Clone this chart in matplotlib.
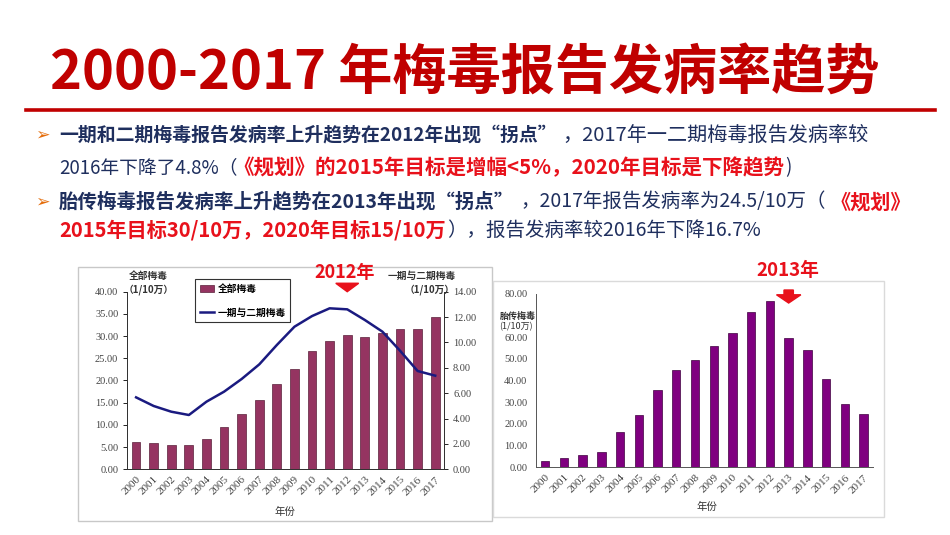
import matplotlib
matplotlib.use("Agg")
import matplotlib.pyplot as plt
from matplotlib.patches import Rectangle, FancyArrow, Patch
from matplotlib.lines import Line2D

plt.rcParams['font.family'] = ['Noto Sans CJK SC', 'DejaVu Sans']

# data (rate per 100,000)
years = [str(y) for y in range(2000, 2018)]
total_rate = [6.2, 5.85, 5.4, 5.4, 6.75, 9.5, 12.5, 15.5, 19.1, 22.65,
              26.55, 29.0, 30.15, 29.8, 30.6, 31.5, 31.65, 34.2]
ps_rate = [5.67, 4.99, 4.54, 4.28, 5.33, 6.12, 7.12, 8.27, 9.80, 11.24,
           12.08, 12.69, 12.61, 11.77, 10.85, 9.35, 7.75, 7.38]
congenital_rate = [2.76, 4.15, 5.84, 7.07, 16.4, 24.1, 35.6, 44.7, 49.5, 56.1,
                   61.9, 71.4, 76.5, 59.6, 54.1, 40.7, 29.0, 24.5]
left_ticks = [0, 5, 10, 15, 20, 25, 30, 35, 40]
right_ticks = [0, 2, 4, 6, 8, 10, 12, 14]
cong_ticks = [0, 10, 20, 30, 40, 50, 60, 70, 80]

TITLE_RED = "#C00000"
RED = "#E8111B"
NAVY = "#1F2F5E"
BAR1 = "#953461"
BAR2 = "#800080"
LINE = "#1A1A80"
SERIF = ["Liberation Serif", "Noto Sans CJK SC"]

W, H = 950, 535
fig = plt.figure(figsize=(9.5, 5.35), dpi=100)


def fx(px):
    return px / W


def fy(py):
    return 1 - py / H


# ---- title block ----
fig.text(fx(465), fy(73), "2000-2017 年梅毒报告发病率趋势", color=TITLE_RED,
         fontsize=39, fontweight="bold", ha="center", va="center")
fig.add_artist(Line2D([fx(26), fx(935)], [fy(110), fy(110)], color=TITLE_RED,
                      lw=2.6, transform=fig.transFigure))

renderer = fig.canvas.get_renderer()


def draw_runs(x, y, runs):
    # runs: (text, colour, weight, size, gap in px before)
    for s, color, weight, size, gap in runs:
        x += gap
        t = fig.text(fx(x), fy(y), s, color=color, fontweight=weight,
                     fontsize=size, ha="left", va="center")
        x = t.get_window_extent(renderer=renderer).x1


for by in (135, 202):
    fig.text(fx(35), fy(by), "➢", color="#E46C0A", fontsize=12.5,
             family=["DejaVu Sans"], ha="left", va="center")

draw_runs(59, 135, [
    ("一期和二期梅毒报告发病率上升趋势在2012年出现“拐点”", NAVY, "bold", 13.6, 0),
    ("，2017年一二期梅毒报告发病率较", NAVY, "normal", 14.5, 6),
])
draw_runs(59, 168, [
    ("2016年下降了4.8%（", NAVY, "normal", 13.5, 0),
    ("《规划》的2015年目标是增幅<5%，2020年目标是下降趋势", RED, "bold", 14.8, -4),
    (")", NAVY, "normal", 13.5, 1),
])
draw_runs(59, 202, [
    ("胎传梅毒报告发病率上升趋势在2013年出现“拐点”", NAVY, "bold", 14, 0),
    ("，2017年报告发病率为24.5/10万（", NAVY, "normal", 14, 6),
    ("《规划》", RED, "bold", 14.5, 5),
])
draw_runs(59, 230, [
    ("2015年目标30/10万，2020年目标15/10万", RED, "bold", 14.5, 0),
    ("），报告发病率较2016年下降16.7%", NAVY, "normal", 14, 1),
])

# ---- panel frames ----
fig.add_artist(Rectangle((fx(78), fy(521)), fx(492) - fx(78), fy(267) - fy(521),
                         transform=fig.transFigure, fill=False,
                         edgecolor="#C8C8C8", lw=1))
fig.add_artist(Rectangle((fx(493), fy(517)), fx(884) - fx(493), fy(281) - fy(517),
                         transform=fig.transFigure, fill=False,
                         edgecolor="#DADADA", lw=1))

x = list(range(len(years)))

# ---- left chart: all syphilis + primary/secondary ----
ax = fig.add_axes([fx(127.3), fy(469.3), fx(444) - fx(127.3), fy(291.7) - fy(469.3)])
ax2 = ax.twinx()
ax.bar(x, total_rate, width=0.5, color=BAR1, edgecolor="#5A1F3A", lw=0.5)
ax2.plot(x, ps_rate, color=LINE, lw=1.8)
ax.set_xlim(-0.5, 17.5)
ax.set_ylim(0, 40)
ax2.set_ylim(0, 14)
ax.set_yticks(left_ticks)
ax.set_yticklabels([f"{v:.2f}" for v in left_ticks], family=SERIF, fontsize=7.5, color="#444444")
ax2.set_yticks(right_ticks)
ax2.set_yticklabels([f"{v:.2f}" for v in right_ticks], family=SERIF, fontsize=7.5, color="#444444")
ax.set_xticks(x)
ax.set_xticklabels(years, rotation=45, ha="right", rotation_mode="anchor",
                   family=SERIF, fontsize=8, color="#444444")
ax.tick_params(axis="x", length=0, pad=4)
ax.tick_params(axis="y", length=3, width=0.6)
ax2.tick_params(axis="y", length=3, width=0.6)
for a in (ax, ax2):
    a.spines["top"].set_visible(False)
    for s in ("left", "right", "bottom"):
        a.spines[s].set_linewidth(0.7)
        a.spines[s].set_color("#333333")
fig.text(fx(285), fy(512), "年份", fontsize=7.5, color="#333333", ha="center", va="center")
fig.text(fx(148), fy(276), "全部梅毒", fontsize=7, fontweight="bold", color="#333333",
         ha="center", va="center")
fig.text(fx(149), fy(290), "（1/10万）", fontsize=7, fontweight="bold", color="#333333",
         ha="center", va="center")
fig.text(fx(422), fy(276), "一期与二期梅毒", fontsize=7, fontweight="bold", color="#333333",
         ha="center", va="center")
fig.text(fx(430), fy(290), "（1/10万）", fontsize=7, fontweight="bold", color="#333333",
         ha="center", va="center")

handles = [Patch(facecolor=BAR1, edgecolor="#5A1F3A", lw=0.5),
           Line2D([], [], color=LINE, lw=1.8)]
leg = fig.legend(handles, ["全部梅毒", "一期与二期梅毒"], loc="upper left",
                 bbox_to_anchor=(fx(195), fy(279)), bbox_transform=fig.transFigure,
                 prop={"size": 7, "weight": "bold"}, fancybox=False,
                 edgecolor="#333333", framealpha=1, labelspacing=1.4,
                 handlelength=1.5, handletextpad=0.3, borderpad=0.5,
                 borderaxespad=0)
leg.get_frame().set_linewidth(0.8)

# turning point marker 2012
ax.add_patch(FancyArrow(12, 41.9, 0, -1.9, width=0.55, head_width=1.3,
                        head_length=1.9, length_includes_head=True,
                        color=RED, clip_on=False))
fig.text(fx(345), fy(272), "2012年", color=RED, fontsize=13,
         fontweight="bold", ha="center", va="center")

# ---- right chart: congenital syphilis ----
bx = fig.add_axes([fx(535.7), fy(467.3), fx(873) - fx(535.7), fy(293.7) - fy(467.3)])
bx.bar(x, congenital_rate, width=0.45, color=BAR2, edgecolor="#3F003F", lw=0.5)
bx.set_xlim(-0.5, 17.5)
bx.set_ylim(0, 80)
bx.set_yticks(cong_ticks)
# the 70.00 label sits under the axis title in the reference
bx.set_yticklabels(["" if v == 70 else f"{v:.2f}" for v in cong_ticks],
                   family=SERIF, fontsize=7.5, color="#444444")
bx.set_xticks(x)
bx.set_xticklabels(years, rotation=45, ha="right", rotation_mode="anchor",
                   family=SERIF, fontsize=8, color="#444444")
bx.tick_params(axis="x", length=0, pad=4)
bx.tick_params(axis="y", length=0, pad=6)
bx.spines["top"].set_visible(False)
bx.spines["right"].set_visible(False)
for s in ("left", "bottom"):
    bx.spines[s].set_linewidth(0.7)
    bx.spines[s].set_color("#555555")
fig.text(fx(707), fy(507), "年份", fontsize=7.5, color="#333333", ha="center", va="center")
fig.text(fx(500), fy(316), "胎传梅毒", fontsize=6.5, fontweight="bold", color="#333333",
         ha="left", va="center")
fig.text(fx(499), fy(327), "(1/10万)", fontsize=6.5, color="#333333",
         ha="left", va="center")

bx.add_patch(FancyArrow(13, 81.7, 0, -6.0, width=0.5, head_width=1.3,
                        head_length=3.8, length_includes_head=True,
                        color=RED, clip_on=False))
fig.text(fx(788), fy(271), "2013年", color=RED, fontsize=13.5,
         fontweight="bold", ha="center", va="center")

fig.savefig("out.png", dpi=100)
